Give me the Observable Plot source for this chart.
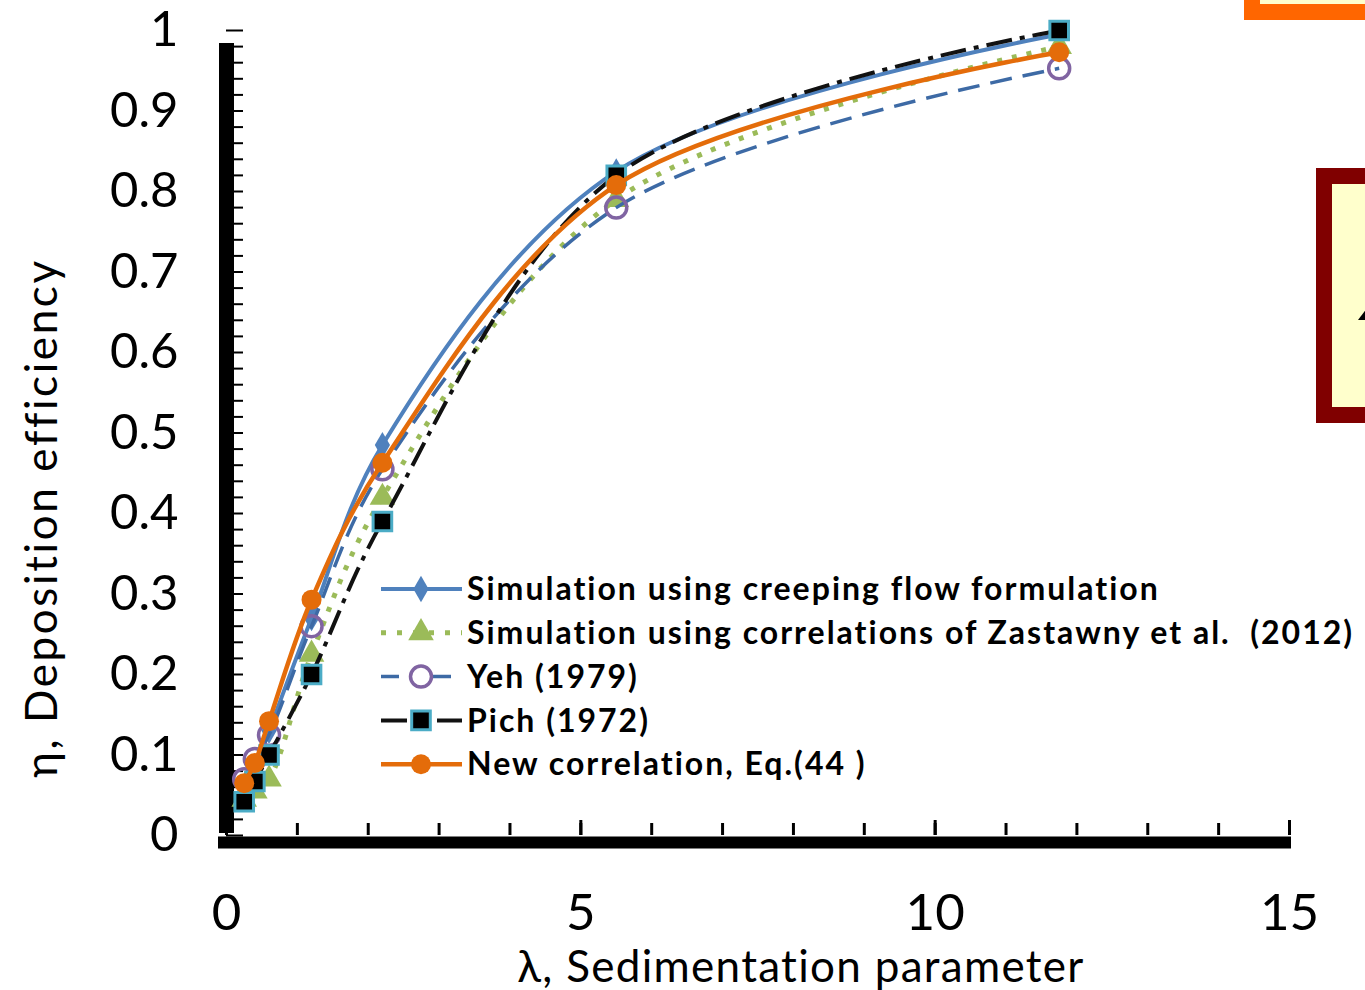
<!DOCTYPE html>
<html>
<head>
<meta charset="utf-8">
<script src="https://cdn.jsdelivr.net/npm/d3@7"></script>
<script src="https://cdn.jsdelivr.net/npm/@observablehq/plot@0.6"></script>
<style>
  body { margin: 0; background: #fff; width: 1365px; height: 990px; overflow: hidden; position: relative; font-family: Lato, sans-serif; }
  #chart { position: absolute; left: 0; top: 0; }
  #legend { position: absolute; left: 0; top: 0; pointer-events: none; }
  .box { position: absolute; background: #ffffcc; box-sizing: border-box; overflow: hidden; }
  .glyph { position: absolute; left: 1358px; top: 308px; width: 9px; height: 12px; background: #000; clip-path: polygon(100% 0, 100% 100%, 0 100%); }
</style>
</head>
<body>
<div id="chart"></div>
<svg id="legend" width="1365" height="990"></svg>
<div class="box" style="left:1244px; top:-40px; width:200px; height:60px; border:16px solid #ff6600; border-top:none;"></div>
<div class="box" style="left:1316px; top:168px; width:200px; height:255px; border:16px solid #800000; border-right:none;"></div>
<div class="glyph"></div>
<script>
// λ values shared by all series
const lambda = [0.25, 0.4, 0.6, 1.2, 2.2, 5.5, 11.75];

// Deposition efficiency η for each series
const creeping = [0.06, 0.085, 0.13, 0.27, 0.485, 0.825, 0.995];
const zastawny = [0.045, 0.055, 0.07, 0.225, 0.42, 0.79, 0.98];
const yeh      = [0.07, 0.095, 0.125, 0.26, 0.455, 0.78, 0.953];
const pich     = [0.042, 0.067, 0.10, 0.20, 0.39, 0.82, 1.0];
const newCorr  = [0.065, 0.09, 0.142, 0.293, 0.463, 0.808, 0.973];

const seriesNames = [
  "Simulation using creeping flow formulation",
  "Simulation using correlations of Zastawny et al.  (2012)",
  "Yeh (1979)",
  "Pich (1972)",
  "New correlation, Eq.(44 )"
];
const seriesValues = [creeping, zastawny, yeh, pich, newCorr];

// Axis ticks and labels
const xTickLabels = [0, 5, 10, 15];
const xMinorTicks = d3.range(1, 15);
const yTickLabels = [0, 0.1, 0.2, 0.3, 0.4, 0.5, 0.6, 0.7, 0.8, 0.9, 1];
const yMinorTicks = d3.range(0, 51).map(i => i / 50);

const xTitle = "λ, Sedimentation parameter";
const yTitle = "η, Deposition efficiency";

// Drawing styles per series
const styles = [
  {stroke: "#4f81bd", strokeWidth: 4, dash: null, symbol: "diamond", r: 8, fill: "#4f81bd", mstroke: "none", msw: 0},
  {stroke: "#9bbb59", strokeWidth: 5, dash: "5 10", symbol: "triangle", r: 9.5, fill: "#9bbb59", mstroke: "none", msw: 0},
  {stroke: "#3d6aa5", strokeWidth: 3.5, dash: "22 11", symbol: "circle", r: 10.5, fill: "none", mstroke: "#8064a2", msw: 3.5},
  {stroke: "#111", strokeWidth: 4, dash: "26 8 5 8", symbol: "square", r: 10.5, fill: "#000", mstroke: "#4bacc6", msw: 3},
  {stroke: "#e46c0a", strokeWidth: 4.5, dash: null, symbol: "circle", r: 10, fill: "#e46c0a", mstroke: "none", msw: 0}
];

const rows = seriesNames.map((name, k) =>
  lambda.map((x, i) => ({series: name, x, y: seriesValues[k][i]}))
);

const seriesMarks = rows.flatMap((data, k) => {
  const s = styles[k];
  return [
    Plot.line(data, {x: "x", y: "y", curve: "catmull-rom", stroke: s.stroke, strokeWidth: s.strokeWidth,
      strokeDasharray: s.dash ?? undefined, strokeLinecap: "butt"}),
    Plot.dot(data, {x: "x", y: "y", symbol: s.symbol, r: s.r, fill: s.fill, stroke: s.mstroke, strokeWidth: s.msw})
  ];
});

const plainNumber = d => String(d);

const chart = Plot.plot({
  width: 1365,
  height: 990,
  marginLeft: 226,
  marginRight: 76,
  marginTop: 30,
  marginBottom: 155,
  style: {fontFamily: "Lato, sans-serif", color: "#000", background: "#fff", overflow: "visible"},
  x: {domain: [0, 15]},
  y: {domain: [0, 1]},
  marks: [
    // inward minor ticks
    Plot.axisY(yMinorTicks, {tickSize: -17, strokeWidth: 2, tickFormat: () => "", label: null}),
    Plot.axisX(xMinorTicks, {tickSize: -12, strokeWidth: 3, tickFormat: () => "", label: null}),
    Plot.axisX(xTickLabels, {tickSize: -15, strokeWidth: 3, tickPadding: 73, fontSize: 51, tickFormat: plainNumber, label: null}),
    Plot.axisY(yTickLabels, {tickSize: 0, tickPadding: 48, fontSize: 49, tickFormat: plainNumber, label: null}),
    // heavy axis lines
    Plot.ruleX([0], {y1: 0, y2: 1, strokeWidth: 15, insetTop: -2, insetBottom: -13}),
    Plot.ruleY([0], {x1: 0, x2: 15, strokeWidth: 12, dy: 7, insetLeft: -8, insetRight: -2}),
    ...seriesMarks,
    // axis titles
    Plot.text([xTitle], {frameAnchor: "bottom", dx: 43, dy: 132, fontSize: 44,
      lineAnchor: "middle", textAnchor: "middle"}),
    Plot.text([yTitle], {frameAnchor: "left", rotate: -90, dx: -184, dy: 85, fontSize: 44,
      lineAnchor: "middle", textAnchor: "middle"})
  ]
});
document.getElementById("chart").append(chart);

// widen the axis titles slightly
d3.select(chart).selectAll("text")
  .filter(function() { return this.textContent === xTitle; })
  .attr("letter-spacing", "1.3px");
d3.select(chart).selectAll("text")
  .filter(function() { return this.textContent === yTitle; })
  .attr("letter-spacing", "2.6px");

// Legend: sample line, marker and label per series
const legend = d3.select("#legend");
const symbolTypes = {circle: d3.symbolCircle, diamond: d3.symbolDiamond, triangle: d3.symbolTriangle, square: d3.symbolSquare};
seriesNames.forEach((name, k) => {
  const s = styles[k];
  const cy = 589 + k * 43.8;
  const g = legend.append("g");
  g.append("line").attr("x1", 381).attr("x2", 462).attr("y1", cy).attr("y2", cy)
    .attr("stroke", s.stroke).attr("stroke-width", s.strokeWidth)
    .attr("stroke-dasharray", k === 1 ? "5 11" : k === 2 ? "18 34" : k === 3 ? "26 30" : null);
  g.append("path").attr("transform", `translate(421,${cy})`)
    .attr("d", d3.symbol(symbolTypes[s.symbol], Math.PI * s.r * s.r)())
    .attr("fill", s.fill).attr("stroke", s.mstroke).attr("stroke-width", s.msw);
  g.append("text").attr("x", 467).attr("y", cy).attr("dy", "0.35em")
    .attr("font-size", 32).attr("font-weight", "bold").attr("letter-spacing", "2px")
    .attr("font-family", "Lato, sans-serif").attr("fill", "#000")
    .style("white-space", "pre")
    .text(name);
});
</script>
</body>
</html>
